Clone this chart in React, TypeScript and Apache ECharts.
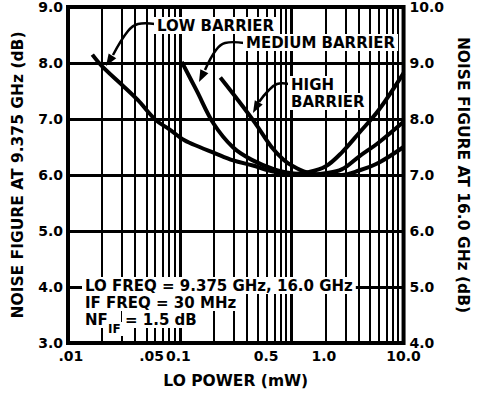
import React, { useEffect, useRef } from 'react';
import * as echarts from 'echarts';

// ---- data ----
// LO power (mW) and noise figure (dB, left axis at 9.375 GHz)
const lowBarrierPower = [0.0165, 0.02, 0.03, 0.042, 0.061, 0.08, 0.11, 0.15, 0.2, 0.3, 0.45, 0.6, 0.8, 1.0, 1.4, 2.0, 2.8, 4.0, 6.0, 10.0];
const lowBarrierNF = [8.15, 7.95, 7.62, 7.34, 6.98, 6.82, 6.62, 6.5, 6.4, 6.26, 6.17, 6.09, 6.04, 6.02, 6.05, 6.15, 6.4, 6.75, 7.16, 7.82];

const mediumBarrierPower = [0.104, 0.141, 0.2, 0.3, 0.44, 0.7, 1.0, 1.4, 2.0, 2.8, 4.0, 6.0, 10.0];
const mediumBarrierNF = [8.02, 7.51, 6.92, 6.49, 6.27, 6.1, 6.03, 6.0, 6.03, 6.1, 6.33, 6.58, 6.95];

const highBarrierPower = [0.23, 0.33, 0.47, 0.66, 0.85, 1.04, 1.35, 2.0, 2.8, 4.0, 6.0, 10.0];
const highBarrierNF = [7.74, 7.34, 6.93, 6.5, 6.27, 6.15, 6.05, 6.0, 6.0, 6.08, 6.22, 6.5];

// log grid lines of the graph paper (mW)
const xGridMinor = [0.02, 0.03, 0.04, 0.05, 0.06, 0.07, 0.08, 0.09, 0.2, 0.3, 0.4, 0.5, 0.6, 0.7, 0.8, 0.9, 2, 3, 4, 5, 6, 7, 8, 9];
const xGridMajor = [0.1, 1];

// x tick labels, and where they are printed on the original sheet (mW)
const xTickLabels = ['.01', '.05', '0.1', '0.5', '1.0', '5.0', '10.0'];
const xTickLabelAt = [0.0106, 0.056, 0.097, 0.59, 1.94, 5.6, 10];

const leftAxisTitle = 'NOISE FIGURE AT 9.375 GHz (dB)';
const rightAxisTitle = 'NOISE FIGURE AT 16.0 GHz (dB)';
const xAxisTitle = 'LO POWER (mW)';

const FONT = '"DejaVu Sans", sans-serif';
const lg = (v: number) => Math.log10(v);

function arrowHead(tip: number[], from: number[], len = 12, half = 4.5) {
  const dx = tip[0] - from[0];
  const dy = tip[1] - from[1];
  const L = Math.hypot(dx, dy);
  const ux = dx / L;
  const uy = dy / L;
  const bx = tip[0] - ux * len;
  const by = tip[1] - uy * len;
  return {
    type: 'polygon',
    z: 100,
    silent: true,
    shape: { points: [tip, [bx - uy * half, by + ux * half], [bx + uy * half, by - ux * half]] },
    style: { fill: '#000' },
  };
}

function leader(points: number[][]) {
  return {
    type: 'polyline',
    z: 100,
    silent: true,
    shape: { points, smooth: 0.4 },
    style: { stroke: '#000', lineWidth: 2.5, fill: null },
  };
}

function label(text: string, x: number, y: number, size = 15) {
  return {
    type: 'text',
    z: 101,
    silent: true,
    x,
    y,
    style: {
      text,
      x: 0,
      y: 0,
      font: `bold ${size}px ${FONT}`,
      fill: '#000',
      backgroundColor: '#fff',
      padding: [1, 3],
    },
  };
}

const lineSeries = (name: string, px: number[], nf: number[], extra: any = {}) => ({
  type: 'line',
  name,
  data: px.map((p, i) => [lg(p), nf[i]]),
  smooth: 0.35,
  symbol: 'none',
  lineStyle: { color: '#000', width: 4 },
  z: 5,
  ...extra,
});

export default function App() {
  const ref = useRef<HTMLDivElement>(null);
  useEffect(() => {
    if (!ref.current) return;
    const chart = echarts.init(ref.current, undefined, { renderer: 'svg' });
    const tickText = { color: '#000', fontFamily: FONT, fontWeight: 'bold' as const, fontSize: 14 };
    const nameText = { color: '#000', fontFamily: FONT, fontWeight: 'bold' as const, fontSize: 15.5 };
    const gridLines = [
      ...xGridMinor.map((v) => ({ xAxis: lg(v), lineStyle: { width: 2 } })),
      ...xGridMajor.map((v) => ({ xAxis: lg(v), lineStyle: { width: 3 } })),
    ];
    const labelPos = xTickLabelAt.map(lg);
    chart.setOption({
      animation: false,
      backgroundColor: '#fff',
      grid: { left: 68, right: 66, top: 6, bottom: 49, show: true, borderColor: '#000', borderWidth: 4, containLabel: false },
      xAxis: {
        type: 'value',
        min: -2,
        max: 1,
        name: xAxisTitle,
        nameLocation: 'middle',
        nameGap: 30,
        nameTextStyle: nameText,
        axisLine: { show: false },
        axisTick: { show: false },
        splitLine: { show: false },
        axisLabel: {
          ...tickText,
          margin: 6,
          showMinLabel: true,
          showMaxLabel: true,
          hideOverlap: false,
          customValues: labelPos,
          formatter: (v: number) => {
            let best = 0;
            let bd = Infinity;
            labelPos.forEach((t, i) => {
              const d = Math.abs(t - v);
              if (d < bd) {
                bd = d;
                best = i;
              }
            });
            return xTickLabels[best];
          },
        },
      },
      yAxis: [
        {
          type: 'value',
          min: 3,
          max: 9,
          interval: 1,
          position: 'left',
          name: leftAxisTitle,
          nameLocation: 'middle',
          nameRotate: 90,
          nameGap: 42,
          nameTextStyle: nameText,
          axisLine: { show: false },
          axisTick: { show: false },
          splitLine: { show: true, lineStyle: { color: '#000', width: 3 } },
          axisLabel: { ...tickText, margin: 5, formatter: (v: number) => v.toFixed(1) },
        },
        {
          type: 'value',
          min: 4,
          max: 10,
          interval: 1,
          position: 'right',
          name: rightAxisTitle,
          nameLocation: 'middle',
          nameRotate: -90,
          nameGap: 45,
          nameTextStyle: nameText,
          axisLine: { show: false },
          axisTick: { show: false },
          splitLine: { show: false },
          axisLabel: { ...tickText, margin: 6, formatter: (v: number) => v.toFixed(1) },
        },
      ],
      series: [
        lineSeries('LOW BARRIER', lowBarrierPower, lowBarrierNF, {
          markLine: {
            silent: true,
            symbol: ['none', 'none'],
            label: { show: false },
            lineStyle: { color: '#000', type: 'solid', width: 2 },
            z: 1,
            data: gridLines,
          },
        }),
        lineSeries('MEDIUM BARRIER', mediumBarrierPower, mediumBarrierNF),
        lineSeries('HIGH BARRIER', highBarrierPower, highBarrierNF),
      ],
      graphic: [
        leader([[155, 24], [138, 24], [128, 31], [113, 55]]),
        arrowHead([106, 66], [113, 55]),
        leader([[244, 43], [225, 43], [216, 50], [205, 70]]),
        arrowHead([199, 82], [205, 70]),
        leader([[289, 84], [277, 84], [268, 91], [259, 102]]),
        arrowHead([253, 113], [259, 102]),
        label('LOW BARRIER', 154, 17),
        label('MEDIUM BARRIER', 243, 34),
        label('HIGH', 288, 76),
        label('BARRIER', 288, 93),
        label('LO FREQ = 9.375 GHz, 16.0 GHz', 82, 277),
        label('IF FREQ = 30 MHz', 82, 294),
        label('NF', 82, 311),
        label('IF', 105, 322, 12),
        label('= 1.5 dB', 122, 311),
      ],
    });
    return () => chart.dispose();
  }, []);
  return <div ref={ref} style={{ position: 'fixed', left: 0, top: 0, width: 479, height: 394, background: '#fff' }} />;
}
